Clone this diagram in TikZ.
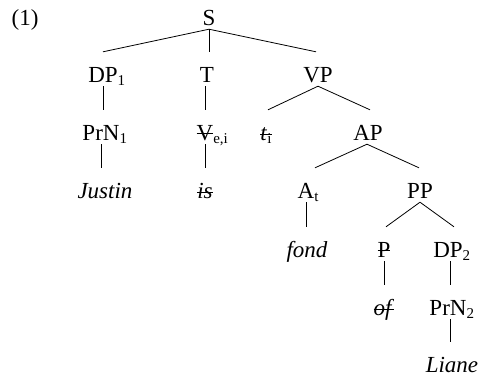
\documentclass[tikz,border=0pt]{standalone}
\usepackage{fontspec}
\setmainfont{Liberation Serif}
\newsavebox{\strkbox}
\newcommand{\strk}[2][6pt]{\sbox{\strkbox}{#2}\rlap{\usebox{\strkbox}}\rule[#1]{\wd\strkbox}{1.1pt}}
\newcommand{\sbs}[1]{\raisebox{-3pt}{\fontsize{15}{15}\selectfont #1}}
\begin{document}
\begin{tikzpicture}[x=1pt,y=-1pt,
  tn/.style={anchor=base, inner sep=0pt, text height=30pt, text depth=4pt,
             font=\fontsize{23}{27}\selectfont},
  br/.style={line width=0.8pt}]
\useasboundingbox (0,0) rectangle (482,376);
\node[tn] (ex) at (25,25) {(1)};
\node[tn] (S) at (209,25) {S};
\node[tn] (DP1) at (103,82) {DP\rlap{\sbs{1}}};
\node[tn] (T) at (207,82) {T};
\node[tn] (VP) at (318,82) {VP};
\node[tn] (PrN1) at (101,140) {PrN\rlap{\sbs{1}}};
\node[tn] (V) at (205,140) {\strk{V}\rlap{\sbs{e,i}}};
\node[tn] (t) at (266,140) {\strk[5pt]{\textit{t}\sbs{i}}};
\node[tn] (AP) at (368,140) {AP};
\node[tn] (Justin) at (105,198) {\textit{Justin}};
\node[tn] (is) at (205,198) {\strk[5pt]{\textit{is}}};
\node[tn] (A) at (306,198) {A\rlap{\sbs{t}}};
\node[tn] (PP) at (420,198) {PP};
\node[tn] (fond) at (307,257) {\textit{fond}};
\node[tn] (P) at (384,257) {\strk{P}};
\node[tn] (DP2) at (448,257) {DP\rlap{\sbs{2}}};
\node[tn] (of) at (384,315) {\strk[5pt]{\textit{of}}};
\node[tn] (PrN2) at (448,315) {PrN\rlap{\sbs{2}}};
\node[tn] (Liane) at (452,372) {\textit{Liane}};
% branches
\draw[br] (S.south) -- (DP1.north);
\draw[br] (S.south) -- (S.south |- T.north);
\draw[br] (S.south) -- ([xshift=-2pt]VP.north);
\draw[br] (DP1.south) -- (DP1.south |- PrN1.north);
\draw[br] (T.south -| V.north) -- (V.north);
\draw[br] (VP.south) -- ([xshift=2pt]t.north);
\draw[br] (VP.south) -- ([xshift=2pt]AP.north);
\draw[br] (PrN1.south) -- (PrN1.south |- Justin.north);
\draw[br] (V.south) -- (V.south |- is.north);
\draw[br] ([xshift=-1pt]AP.south) -- ([xshift=9pt]A.north);
\draw[br] ([xshift=-1pt]AP.south) -- ([xshift=-1pt]PP.north);
\draw[br] (A.south) -- (A.south |- fond.north);
\draw[br] (PP.south) -- ([xshift=2pt]P.north);
\draw[br] (PP.south) -- ([xshift=6pt]DP2.north);
\draw[br] (P.south) -- (P.south |- of.north);
\draw[br] ([xshift=2pt]DP2.south) -- ([xshift=2pt]DP2.south |- PrN2.north);
\draw[br] ([xshift=2pt]PrN2.south) -- ([xshift=2pt]PrN2.south |- Liane.north);
\end{tikzpicture}
\end{document}
